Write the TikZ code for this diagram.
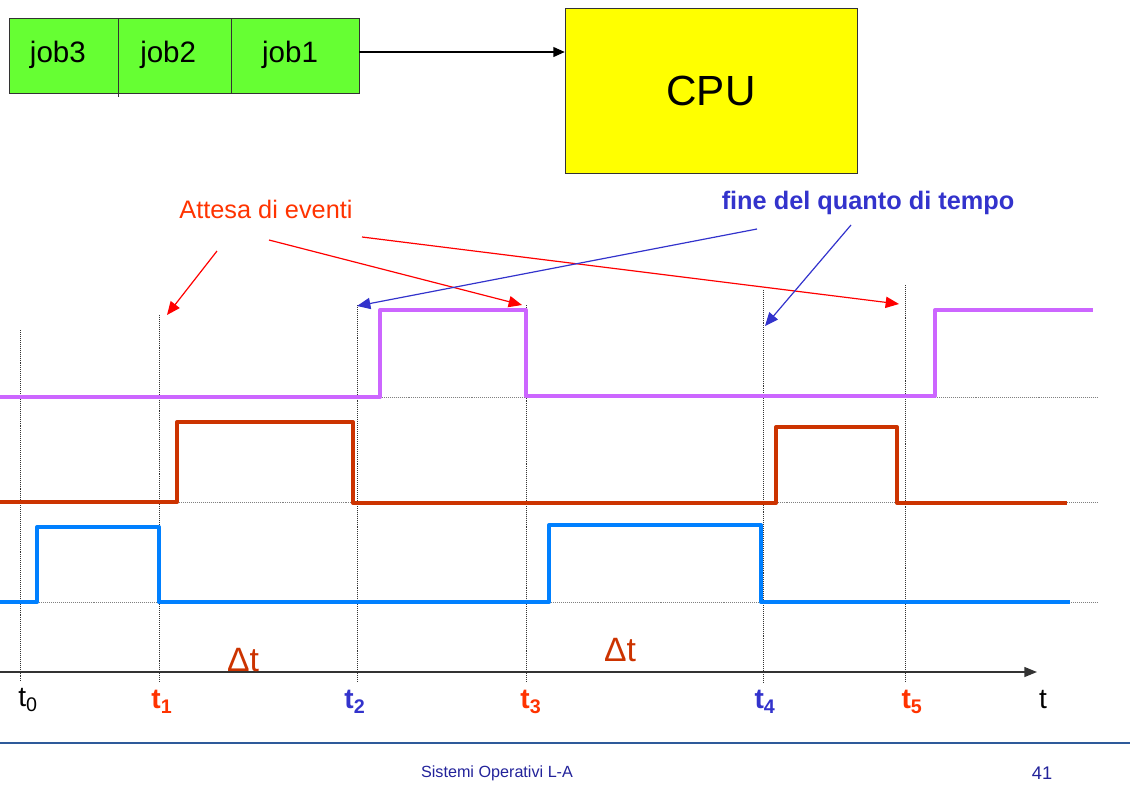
\documentclass[tikz,border=0pt]{standalone}
\usepackage{fontspec}
\setmainfont{Liberation Sans}
\usepackage{tikz}
\usetikzlibrary{arrows.meta}

\definecolor{jobgreen}{HTML}{66FF33}
\definecolor{cpuyellow}{HTML}{FFFF00}
\definecolor{sigpurple}{HTML}{CC66FF}
\definecolor{sigred}{HTML}{CC3300}
\definecolor{sigblue}{HTML}{0080FF}
\definecolor{evred}{HTML}{FF0000}
\definecolor{evtext}{HTML}{FF3300}
\definecolor{qblue}{HTML}{3333CC}
\definecolor{footblue}{HTML}{22229A}
\definecolor{footline}{HTML}{2E5A9A}

\begin{document}
\begin{tikzpicture}[x=0.025cm,y=-0.025cm]

	\tikzstyle queue box=[draw=black!80, fill=jobgreen, minimum height=75*0.025cm, inner sep=0pt, text height=15pt, text depth=4.5pt, font=\fontsize{21}{24}\selectfont];
	\tikzstyle cpu box=[draw=black!80, fill=cpuyellow, minimum width=292*0.025cm, minimum height=165*0.025cm, font=\fontsize{30}{34}\selectfont];
	\tikzstyle signal lines=[line width=2.8pt, line join=round];
	\tikzstyle base lines=[densely dotted, gray, thin];
	\tikzstyle tick lines=[densely dotted, black!80, thin];
	\tikzstyle event arrows=[evred, line width=0.85pt, -{Triangle[length=9.5pt,width=8pt]}];
	\tikzstyle quantum arrows=[qblue, line width=0.85pt, -{Triangle[length=9.5pt,width=8pt]}];
	\tikzstyle tick labels=[font=\fontsize{20}{24}\selectfont, inner sep=0pt];

	\useasboundingbox (0,0) rectangle (1130,784);

	% coda dei job e CPU
	\node[queue box, minimum width=109*0.025cm] (job3) at (63.5,55.5) {\hspace*{-8pt}job3};
	\node[queue box, minimum width=113*0.025cm] (job2) at (174.5,55.5) {\hspace*{-9pt}job2};
	\node[queue box, minimum width=128*0.025cm] (job1) at (295,55.5) {\hspace*{-7pt}job1};
	\draw[black!80] (job3.south east) -- ++(0,4);
	\node[cpu box] (cpu) at (711,90.5) {CPU};
	\coordinate (qout) at (359,52);
	\draw[line width=0.8pt, -{Triangle[length=8pt,width=7pt]}] (qout) -- (qout -| cpu.west);

	% linee di riferimento
	\foreach \y in {397,502,602}
		\draw[base lines] (0,\y) -- (1097,\y);
	\foreach \x/\top/\n in {20/330/0,159/315/1,357/305/2,526/305/3,763/290/4,905/285/5}
		\draw[tick lines] (\x,\top) coordinate (top\n) -- (\x,682) coordinate (bot\n);

	% segnali
	\draw[signal lines, sigpurple] (0,397) -| (380,310) -| (526,396) -| (935,310) -- (1093,310);
	\draw[signal lines, sigred] (0,502) -| (177,422) -| (353,503) -| (776,427) -| (897,503) -- (1067,503);
	\draw[signal lines, sigblue] (0,602) -| (37,527) -| (159,602) -| (549,525) -| (761,602) -- (1070,602);

	% asse dei tempi
	\coordinate (axl) at (0,672);
	\coordinate (axr) at (1037,672);
	\draw[line width=1.2pt, black!80, -{Triangle[length=9pt,width=7pt]}] (axl) -- (axr);

	\node[tick labels] (lab0) at (28,700) {t\textsubscript{0}};
	\foreach \x/\n/\col in {162/1/evtext,355/2/qblue,531/3/evtext,765/4/qblue,912/5/evtext}
		\node[tick labels, text=\col, font=\fontsize{20}{24}\selectfont\bfseries] (lab\n) at (\x,702) {t\textsubscript{\n}};
	\node[tick labels] (labt) at (1043,700) {t};

	\node[text=sigred, font=\fontsize{24}{28}\selectfont] (dt1) at (243,660) {Δt};
	\node[text=sigred, font=\fontsize{24}{28}\selectfont] (dt2) at (620,650) {Δt};

	% annotazioni
	\node[text=evtext, font=\fontsize{18}{22}\selectfont] (attesa) at (266,209) {Attesa di eventi};
	\node[text=qblue, font=\fontsize{18}{22}\selectfont\bfseries] (quanto) at (868,203) {fine del quanto di tempo};

	\coordinate (ea1) at (217,251);
	\coordinate (ea2) at (269,240);
	\coordinate (ea3) at (362,237);
	\coordinate (qa1) at (757,229);
	\coordinate (qa2) at (851,225);
	\draw[event arrows] (ea1) -- (167,315) coordinate (eb1);
	\draw[event arrows] (ea2) -- (522,305) coordinate (eb2);
	\draw[event arrows] (ea3) -- (899,304) coordinate (eb3);
	\draw[quantum arrows] (qa1) -- (357,306) coordinate (qb1);
	\draw[quantum arrows] (qa2) -- (765,326) coordinate (qb2);

	% pie' di pagina
	\coordinate (fl) at (0,743);
	\coordinate (fr) at (1130,743);
	\draw[footline, line width=1.6pt] (fl) -- (fr);
	\node[text=footblue, font=\fontsize{11.5}{13}\selectfont] (footer) at (497,773) {Sistemi Operativi L-A};
	\node[text=footblue, font=\fontsize{13}{14}\selectfont] (page) at (1042,773) {41};

\end{tikzpicture}
\end{document}
